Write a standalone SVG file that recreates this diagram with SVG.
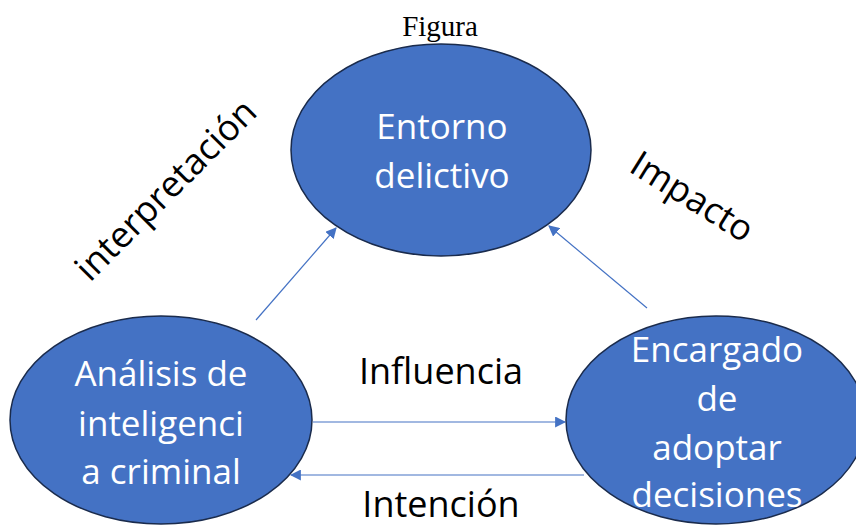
<svg xmlns="http://www.w3.org/2000/svg" width="856" height="525" viewBox="0 0 856 525">
<style>
.node{fill:#4472C4;stroke:#1a2b4c;stroke-width:1.5}
.nt{fill:#fff;font-family:"Open Sans",sans-serif;font-size:35px;text-anchor:middle}
.lbl{fill:#000;font-family:"Open Sans",sans-serif;font-size:36px;text-anchor:middle}
.conn{stroke:#4472C4;stroke-width:1.2;fill:none;marker-end:url(#ah)}
</style>
<defs>
<marker id="ah" viewBox="0 0 10 10" refX="9" refY="5" markerWidth="11" markerHeight="11" markerUnits="userSpaceOnUse" orient="auto">
<path d="M0,0 L10,5 L0,10 z" fill="#4472C4"/>
</marker>
</defs>
<rect width="856" height="525" fill="#fff"/>
<text x="440" y="36" font-family="Liberation Serif,serif" font-size="29" text-anchor="middle">Figura</text>
<g id="connectors">
<line class="conn" x1="256" y1="320" x2="336" y2="228"/>
<line class="conn" x1="647" y1="308" x2="549" y2="226"/>
<line class="conn" x1="313" y1="422" x2="565" y2="422"/>
<line class="conn" x1="584" y1="475" x2="291" y2="475"/>
</g>
<g id="entorno">
<ellipse class="node" cx="441" cy="150" rx="150" ry="106"/>
<text class="nt" x="442" y="139">Entorno</text>
<text class="nt" x="442" y="188">delictivo</text>
</g>
<g id="analisis">
<ellipse class="node" cx="161" cy="420" rx="151" ry="104"/>
<text class="nt" x="161" y="386">Análisis de</text>
<text class="nt" x="161" y="436">inteligenci</text>
<text class="nt" x="161" y="484">a criminal</text>
</g>
<g id="encargado">
<ellipse class="node" cx="716" cy="420" rx="150" ry="104"/>
<text class="nt" x="717" y="362">Encargado</text>
<text class="nt" x="717" y="411">de</text>
<text class="nt" x="717" y="460">adoptar</text>
<text class="nt" x="717" y="507">decisiones</text>
</g>
<g id="labels">
<text class="lbl" x="441" y="384">Influencia</text>
<text class="lbl" x="441" y="517">Intención</text>
<text class="lbl" transform="translate(166,190) rotate(-45)" y="12">interpretación</text>
<text class="lbl" transform="translate(692,197) rotate(32)" y="12">Impacto</text>
</g>
</svg>
